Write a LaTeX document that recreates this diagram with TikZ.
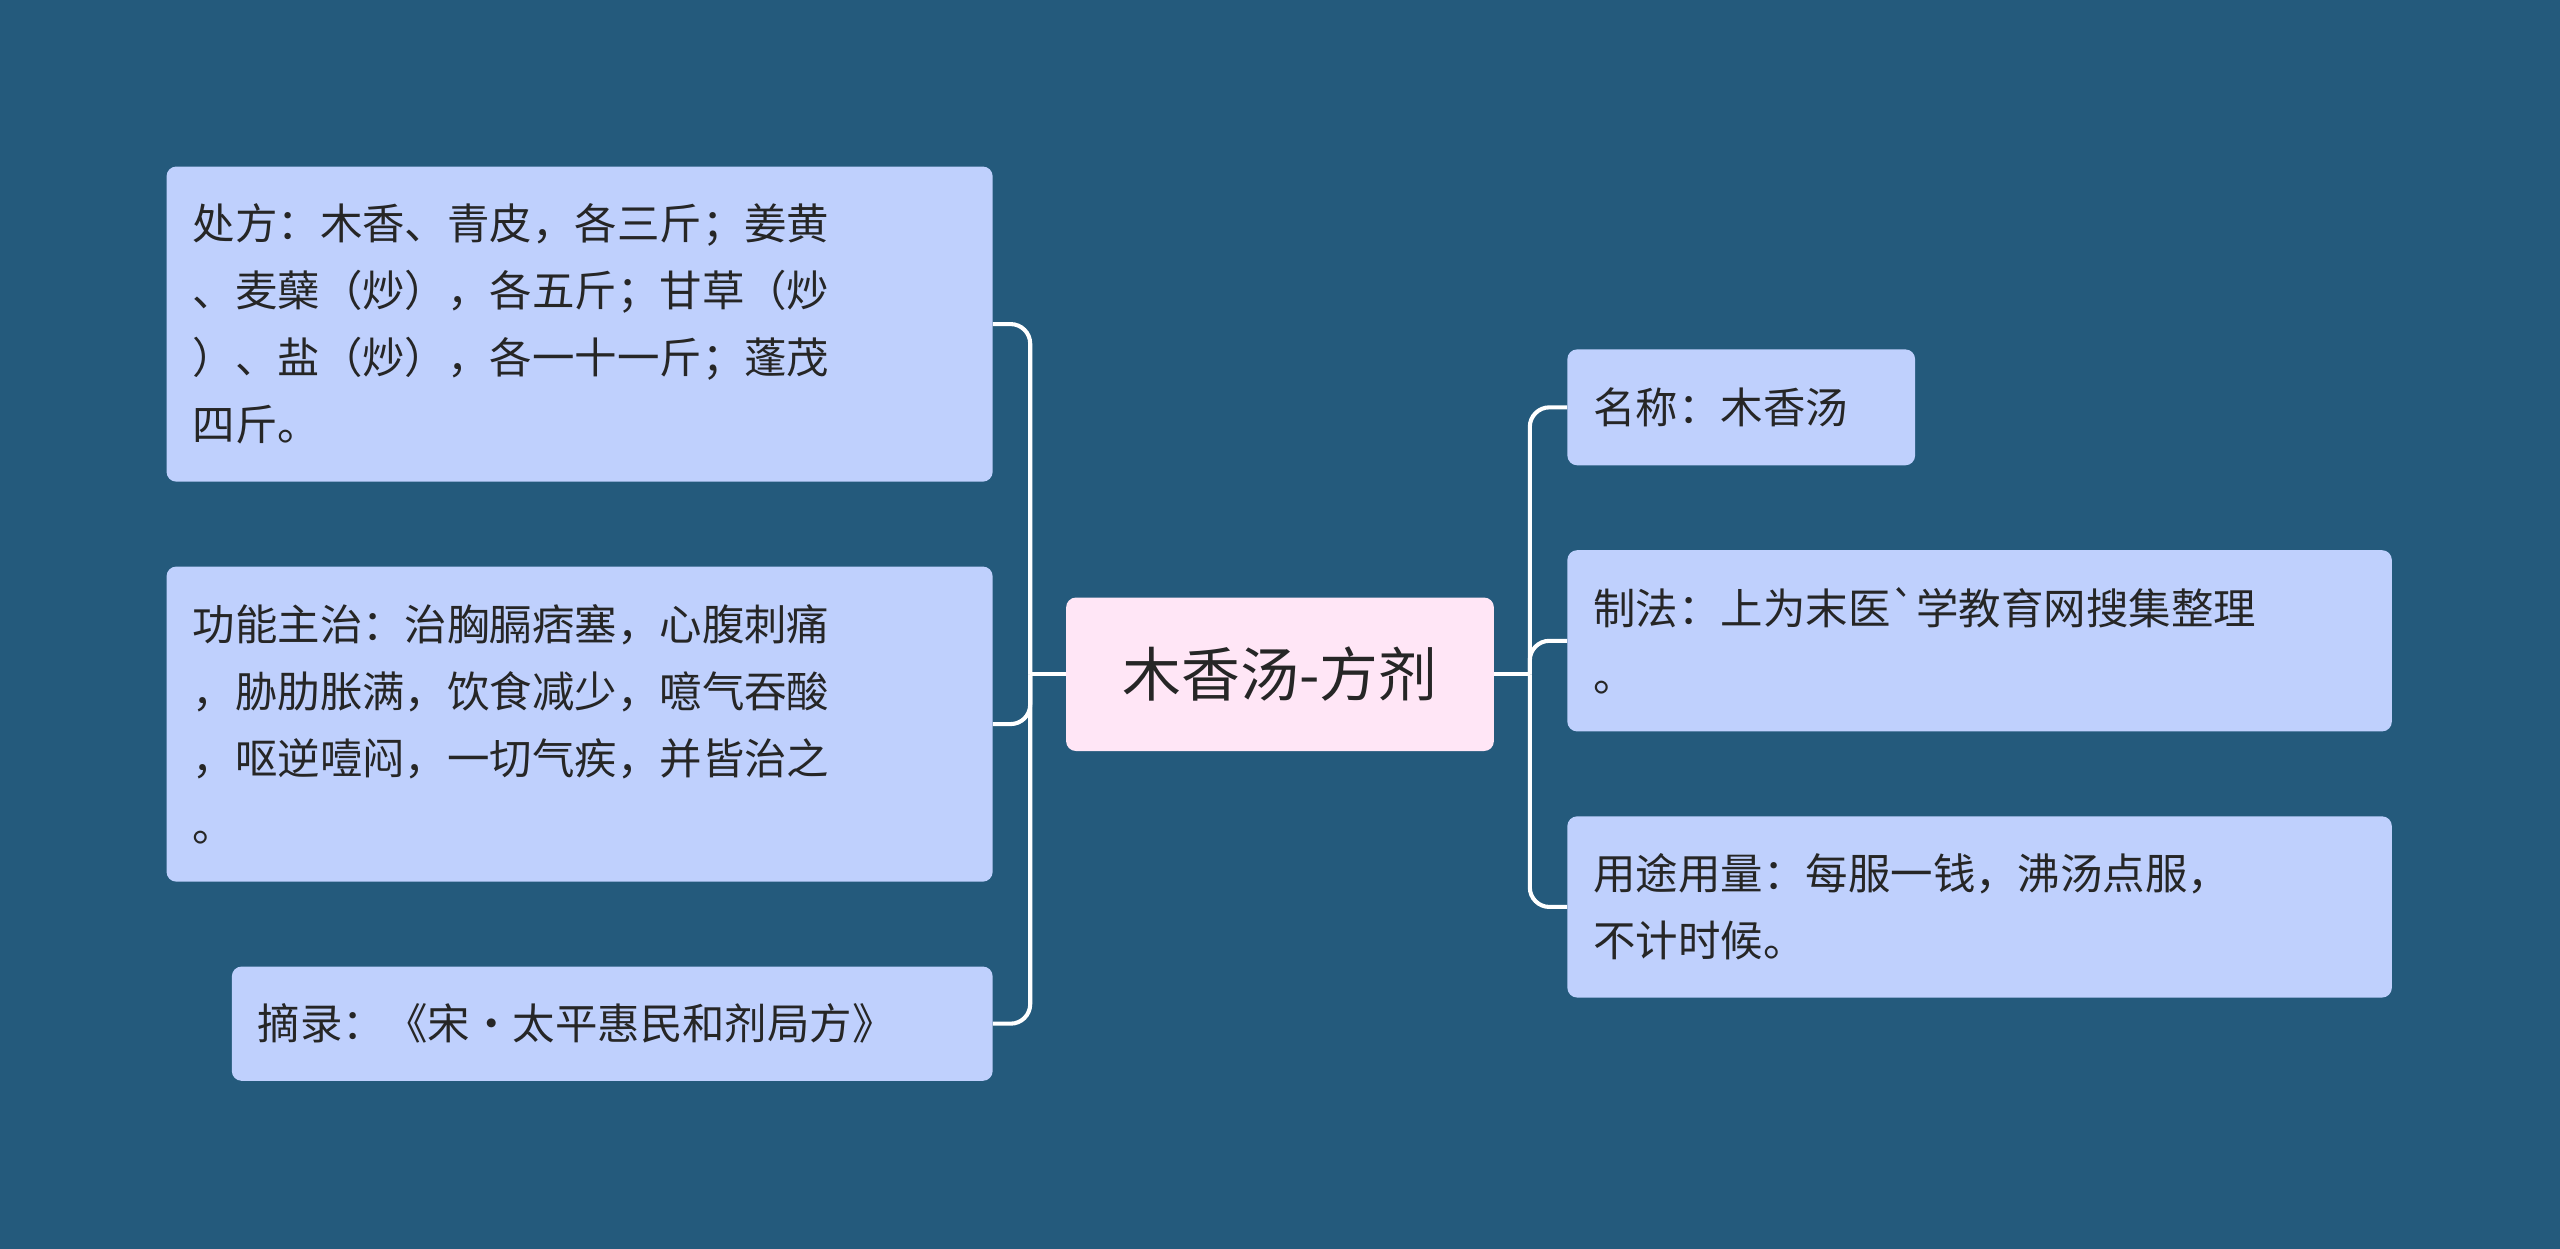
\documentclass[tikz,border=0pt]{standalone}
\usepackage{fontspec}
\newfontfamily\cjk{Noto Sans CJK SC}
\begin{document}
\begin{tikzpicture}[x=1pt,y=-1pt,
  box/.style={fill=boxc,rounded corners=6pt,align=left,inner sep=0pt,font=\cjk\fontsize{26}{41}\selectfont,text=black!85},
  conn/.style={draw=white,line width=2.5pt,rounded corners=12pt}]
\definecolor{bg}{HTML}{245A7C}
\definecolor{boxc}{HTML}{BFD0FD}
\definecolor{cen}{HTML}{FFE6F6}
\fill[bg] (0,0) rectangle (1568,765);
\useasboundingbox (0,0) rectangle (1568,765);
\node[box,fill=cen,minimum width=262,minimum height=94,align=center,font=\cjk\fontsize{36}{44}\selectfont] (c) at (784,413) {木香汤-方剂};
\node[box,minimum width=506,minimum height=193,text width=474] (l1) at (355,198.5) {处方：木香、青皮，各三斤；姜黄\\、麦蘖（炒），各五斤；甘草（炒\\）、盐（炒），各一十一斤；蓬茂\\四斤。};
\node[box,minimum width=506,minimum height=193,text width=474] (l2) at (355,443.5) {功能主治：治胸膈痞塞，心腹刺痛\\，胁肋胀满，饮食减少，噫气吞酸\\，呕逆噎闷，一切气疾，并皆治之\\。};
\node[box,minimum width=466,minimum height=70,text width=434] (l3) at (375,627) {摘录：《宋·太平惠民和剂局方》};
\node[box,minimum width=213,minimum height=71,text width=181] (r1) at (1066.5,249.5) {名称：木香汤};
\node[box,minimum width=505,minimum height=111,text width=473] (r2) at (1212.5,392.5) {制法：上为末医`学教育网搜集整理\\。};
\node[box,minimum width=505,minimum height=111,text width=473] (r3) at (1212.5,555.5) {用途用量：每服一钱，沸汤点服，\\不计时候。};
\coordinate (lt) at (631,413);
\coordinate (rt) at (937,413);
\draw[conn] (c.west) -- (lt);
\draw[conn] (lt) |- (l1.east);
\draw[conn] (lt) |- (l2.east);
\draw[conn] (lt) |- (l3.east);
\draw[conn] (c.east) -- (rt);
\draw[conn] (rt) |- (r1.west);
\draw[conn] (rt) |- (r2.west);
\draw[conn] (rt) |- (r3.west);
\end{tikzpicture}
\end{document}
